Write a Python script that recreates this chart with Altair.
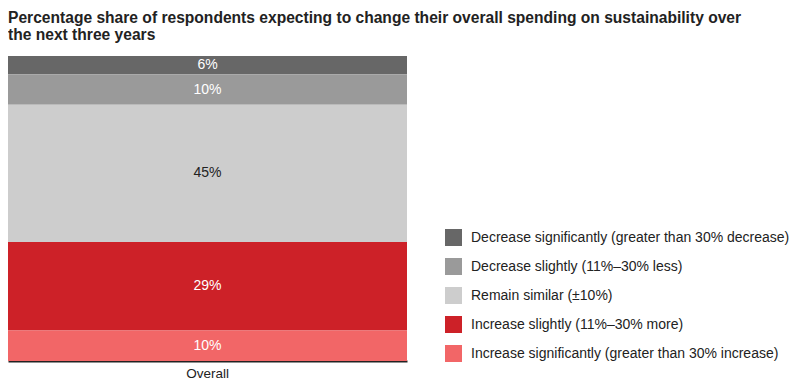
import altair as alt
import pandas as pd

categories = [
    "Decrease significantly (greater than 30% decrease)",
    "Decrease slightly (11%–30% less)",
    "Remain similar (±10%)",
    "Increase slightly (11%–30% more)",
    "Increase significantly (greater than 30% increase)",
]
values = [6, 10, 45, 29, 10]
stack_rank = [4, 3, 2, 1, 0]  # bottom of the bar first
group = ["Overall"] * 5
colors = ["#676767", "#9a9a9a", "#cdcdcd", "#cd2128", "#f26667"]

df = pd.DataFrame({"category": categories, "value": values, "rank": stack_rank, "group": group})

FONT = "Liberation Sans"

base = alt.Chart(df).transform_stack(
    stack="value", groupby=["group"], as_=["y0", "y1"],
    sort=[alt.SortField("rank", order="ascending")],
).transform_calculate(
    mid="(datum.y0 + datum.y1) / 2",
    label="datum.value + '%'",
)

x = alt.X(
    "group:N",
    scale=alt.Scale(paddingInner=0, paddingOuter=0),
    axis=alt.Axis(title=None, labelAngle=0, ticks=False, domainColor="#222222",
                  domainWidth=2, labelFontSize=13.5, labelColor="#222222",
                  labelPadding=5, labelFont=FONT),
)
yscale = alt.Scale(domain=[0, 100], nice=False)

bars = base.mark_bar().encode(
    x=x,
    y=alt.Y("y0:Q", scale=yscale, axis=None),
    y2="y1:Q",
    color=alt.Color(
        "category:N",
        scale=alt.Scale(domain=categories, range=colors),
        legend=alt.Legend(
            orient="none", legendX=437, legendY=173, title=None,
            symbolType="square", symbolSize=289, symbolStrokeWidth=0,
            symbolOpacity=1, labelFontSize=14, labelFont=FONT,
            labelColor="#222222", rowPadding=12, labelOffset=9,
            labelLimit=0, padding=0,
        ),
    ),
)

text = base.mark_text(fontSize=14, font=FONT).encode(
    x=x,
    y=alt.Y("mid:Q", scale=yscale, axis=None),
    text="label:N",
    color=alt.condition("datum.rank == 2", alt.value("#222222"), alt.value("#ffffff")),
)

chart = alt.layer(bars, text).properties(
    width=399,
    height=305,
    autosize=alt.AutoSizeParams(type="none"),
    padding={"left": 0, "top": 48, "right": 385, "bottom": 21},
    title=alt.TitleParams(
        text=["Percentage share of respondents expecting to change their overall spending on sustainability over",
              "the next three years"],
        anchor="start", fontSize=15.6, font=FONT, fontWeight="bold",
        color="#222222", offset=12, lineHeight=17,
    ),
).configure_view(stroke=None)

chart.save("out.html", embed_options={"renderer": "svg", "actions": False})
